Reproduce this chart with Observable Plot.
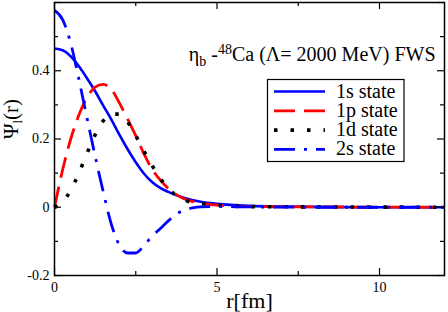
<!DOCTYPE html>
<html><head><meta charset="utf-8">
<script src="https://cdn.jsdelivr.net/npm/d3@7"></script>
<script src="https://cdn.jsdelivr.net/npm/@observablehq/plot@0.6"></script>
<style>
html,body{margin:0;padding:0;background:#fff}
svg{display:block}
</style>
</head><body><div id="chart"></div>
<script>
// ---- data ----
const seriesNames = ["1s state", "1p state", "1d state", "2s state"];

const r1s = [0,0.25,0.5,0.75,1,1.25,1.5,1.75,2,2.25,2.5,2.75,3,3.25,3.5,4,4.5,5,6,7,8,10,12];
const v1s = [0.465,0.46,0.442,0.413,0.378,0.34,0.298,0.257,0.212,0.17,0.132,0.099,0.074,0.057,0.045,0.027,0.016,0.01,0.004,0.002,0.001,0,0];

const r1p = [0,0.25,0.5,0.75,1,1.25,1.5,1.75,2,2.25,2.5,2.75,3,3.25,3.5,3.75,4,4.5,5,6,8,12];
const v1p = [0,0.11,0.2,0.27,0.322,0.352,0.36,0.345,0.305,0.258,0.21,0.157,0.112,0.08,0.055,0.037,0.024,0.012,0.006,0.002,0.001,0];

const r1d = [0,0.25,0.5,0.75,1,1.25,1.5,1.75,2,2.25,2.5,2.75,3,3.25,3.5,3.75,4,4.5,5,6,8,12];
const v1d = [0,0.015,0.05,0.1,0.158,0.212,0.253,0.273,0.273,0.25,0.21,0.165,0.123,0.085,0.055,0.034,0.021,0.011,0.006,0.002,0.001,0];

const r2s = [0,0.25,0.5,0.75,1,1.25,1.5,1.75,2,2.25,2.5,2.75,3,3.25,3.5,3.75,4,4.25,4.5,5,6,8,12];
const v2s = [0.577,0.55,0.48,0.375,0.262,0.15,0.045,-0.05,-0.112,-0.134,-0.134,-0.113,-0.085,-0.063,-0.04,-0.02,-0.008,-0.002,0.001,0.002,0.001,0,0];

const xMajor = [0, 5, 10];
const xMinor = [2.5, 7.5];
const yMajor = [-0.2, 0, 0.2, 0.4, 0.6];
const yMinor = [-0.1, 0.1, 0.3, 0.5];
const xTickLabels = [0, 5, 10];
const yTickLabels = [-0.2, 0, 0.2, 0.4];

const titleParts = [["η",""],["b","sub"],[" -",""],["48","sup"],["Ca (Λ= 2000 MeV) FWS",""]];
const xLabelParts = [["r[fm]",""]];
const yLabelParts = [["Ψ",""],["l","sub"],["(r)",""]];

// ---- styles ----
const styles = [
  {stroke:"#0000ff", dash:null, width:2.6},
  {stroke:"#ff0000", dash:"21,9", width:2.8},
  {stroke:"#000000", dash:"3.5,13", width:3.6},
  {stroke:"#0000ff", dash:"21,9,3,9", width:2.8}
];

const seriesR = [r1s, r1p, r1d, r2s];
const seriesV = [v1s, v1p, v1d, v2s];
const rows = seriesNames.map((name, i) => seriesR[i].map((r, j) => ({name, r, v: seriesV[i][j]})));

const W = 448, H = 312, mL = 54, mR = 4, mT = 2, mB = 37;
const pw = W - mL - mR, ph = H - mT - mB;
const FONT = "Liberation Serif";
const plain = parts => parts.map(p => p[0]).join("");

const lineMarks = rows.map((data, i) => Plot.line(data, {
  x: "r", y: "v", stroke: styles[i].stroke, strokeWidth: styles[i].width,
  strokeDasharray: styles[i].dash, strokeLinecap: "butt", strokeLinejoin: "round",
  curve: "monotone-x"
}));

const plot = Plot.plot({
  width: W, height: H,
  marginLeft: mL, marginRight: mR, marginTop: mT, marginBottom: mB,
  x: {domain: [0, 12], label: null},
  y: {domain: [-0.2, 0.6], label: null},
  style: {fontFamily: FONT, fontSize: "14px", color: "black", background: "white", overflow: "visible"},
  marks: [
    Plot.axisX(xTickLabels, {tickSize: 0, tickPadding: 7, tickFormat: d => String(d), label: null, fontSize: 14}),
    Plot.axisY(yTickLabels, {tickSize: 0, tickPadding: 5, tickFormat: d => d === 0 ? "0" : d.toFixed(1), label: null, fontSize: 14}),
    ...lineMarks,
    Plot.tickX(xMajor, {x: d => d, insetTop: ph - 7, stroke: "black", strokeWidth: 1.2}),
    Plot.tickX(xMajor, {x: d => d, insetBottom: ph - 7, stroke: "black", strokeWidth: 1.2}),
    Plot.tickX(xMinor, {x: d => d, insetTop: ph - 4, stroke: "black", strokeWidth: 1.2}),
    Plot.tickX(xMinor, {x: d => d, insetBottom: ph - 4, stroke: "black", strokeWidth: 1.2}),
    Plot.tickY(yMajor, {y: d => d, insetRight: pw - 7, stroke: "black", strokeWidth: 1.2}),
    Plot.tickY(yMajor, {y: d => d, insetLeft: pw - 7, stroke: "black", strokeWidth: 1.2}),
    Plot.tickY(yMinor, {y: d => d, insetRight: pw - 4, stroke: "black", strokeWidth: 1.2}),
    Plot.tickY(yMinor, {y: d => d, insetLeft: pw - 4, stroke: "black", strokeWidth: 1.2}),
    Plot.frame({stroke: "black", strokeWidth: 1.5}),
    Plot.text([plain(titleParts)], {frameAnchor: "top-right", dx: -9, dy: 58, textAnchor: "end", lineAnchor: "bottom", fontSize: 20, fontFamily: FONT}),
    Plot.text([plain(xLabelParts)], {frameAnchor: "bottom", dy: 32, lineAnchor: "bottom", fontSize: 22, fontFamily: FONT}),
    Plot.text([plain(yLabelParts)], {frameAnchor: "left", dx: -37, rotate: -90, lineAnchor: "bottom", fontSize: 21, fontFamily: FONT})
  ]
});

// rich text (sub/superscripts)
function richify(parts, subSize, subShift, supShift) {
  d3.select(plot).selectAll("text").each(function() {
    if (this.textContent !== plain(parts)) return;
    const t = d3.select(this);
    t.text(null);
    let off = 0;
    parts.forEach(([s, kind]) => {
      const ts = t.append("tspan").text(s);
      let target = 0;
      if (kind === "sub") { target = subShift; ts.attr("font-size", subSize); }
      if (kind === "sup") { target = supShift; ts.attr("font-size", subSize); }
      if (target !== off) ts.attr("dy", target - off);
      off = target;
    });
  });
}
richify(titleParts, 14, 5, -7);
richify(yLabelParts, 13, 4, -7);

// legend
const svg = d3.select(plot);
svg.attr("font-family", FONT);
const lg = svg.append("g").attr("font-size", 20).attr("text-anchor", "start");
lg.append("rect").attr("x", 267.5).attr("y", 79.5).attr("width", 136.5).attr("height", 82)
  .attr("fill", "white").attr("stroke", "black").attr("stroke-width", 1.2);
seriesNames.forEach((name, i) => {
  const y = 91.5 + i * 19.3;
  lg.append("line").attr("x1", 274).attr("x2", 325).attr("y1", y).attr("y2", y)
    .attr("stroke", styles[i].stroke).attr("stroke-width", styles[i].width)
    .attr("stroke-dasharray", styles[i].dash).attr("fill", "none");
  lg.append("text").attr("x", 336).attr("y", y + 6).attr("fill", "black").text(name);
});
// make sure every text carries the serif family directly
svg.selectAll("text").attr("font-family", FONT).style("font-family", FONT);

document.getElementById("chart").appendChild(plot);
</script>
</body></html>
